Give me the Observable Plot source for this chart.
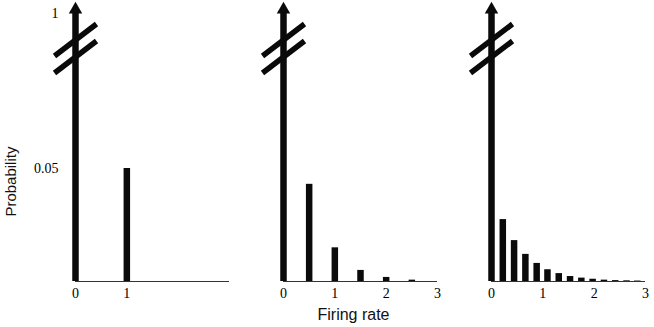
<!DOCTYPE html>
<html>
<head>
<meta charset="utf-8">
<script src="https://cdn.jsdelivr.net/npm/d3@7"></script>
<script src="https://cdn.jsdelivr.net/npm/@observablehq/plot@0.6"></script>
<style>
  html, body { margin: 0; padding: 0; background: #fff; }
  #chart svg { display: block; }
</style>
</head>
<body>
<div id="chart"></div>
<script>
// ---- data ----
const panels = ["a", "b", "c"];

const rateA = [0, 1];
const probA = [1, 0.05];

const rateB = [0, 0.5, 1, 1.5, 2, 2.5];
const probB = [1, 0.043, 0.0149, 0.0049, 0.0018, 0.0006];

const rateC = [0, 0.22, 0.44, 0.66, 0.88, 1.09, 1.31, 1.53, 1.75, 1.97, 2.19, 2.41, 2.63, 2.84];
const probC = [1, 0.0274, 0.0181, 0.012, 0.008, 0.0052, 0.0035, 0.0022, 0.0015, 0.001, 0.0006, 0.0004, 0.0003, 0.0002];

const xTicksA = [0, 1];
const xTicksB = [0, 1, 2, 3];
const xTicksC = [0, 1, 2, 3];

const yTicks = [0.05, 1];
const yTickLabels = ["0.05", "1"];

const topValue = 1;      // value of the broken bar at rate 0
const breakValue = 0.25; // where the axis break marks sit

const xLabel = "Firing rate";
const yLabel = "Probability";

// broken y axis: values above the break are compressed
const breakStart = 0.1;
const compress = 0.02065;
const yBroken = v => (v <= breakStart ? v : breakStart + (v - breakStart) * compress);

// ---- build tables ----
const bars = [
  ...rateA.map((r, i) => ({panel: "a", rate: r, p: probA[i]})),
  ...rateB.map((r, i) => ({panel: "b", rate: r, p: probB[i]})),
  ...rateC.map((r, i) => ({panel: "c", rate: r, p: probC[i]}))
];
const xTicks = [
  ...xTicksA.map(t => ({panel: "a", t})),
  ...xTicksB.map(t => ({panel: "b", t})),
  ...xTicksC.map(t => ({panel: "c", t}))
];
const yTickData = yTicks.map((v, i) => ({panel: "a", v, label: yTickLabels[i]}));
const tops = panels.map(p => ({panel: p, v: topValue}));
const breaks = panels.map(p => ({panel: p, v: breakValue}));

// custom "axis break" symbol: two parallel slashes
const breakSymbol = {
  draw(ctx) {
    ctx.moveTo(-21, 7.5); ctx.lineTo(21, -24.5);
    ctx.moveTo(-21, 24.5); ctx.lineTo(21, -7.5);
  }
};

const serif = "'Liberation Serif', 'Times New Roman', serif";
const sans = "'Liberation Sans', Arial, Helvetica, sans-serif";

const chart = Plot.plot({
  width: 654,
  height: 327,
  marginLeft: 74.5,
  marginRight: 8.5,
  marginTop: 13,
  marginBottom: 46,
  fx: {domain: panels, axis: null, paddingInner: 0.261, paddingOuter: 0},
  x: {domain: [0, 3], axis: null},
  y: {domain: [0, yBroken(topValue)], transform: yBroken, axis: null},
  style: {background: "white"},
  marks: [
    Plot.ruleY([0], {stroke: "#333", strokeWidth: 1}),
    Plot.ruleX(bars, {fx: "panel", x: "rate", y: "p", stroke: "#0a0a0a", strokeWidth: 6.5}),
    Plot.dot(tops, {fx: "panel", x: 0, y: "v", symbol: "triangle", r: 5, fill: "#0a0a0a", stroke: "none", dy: -4}),
    Plot.dot(breaks, {fx: "panel", x: 0, y: "v", symbol: breakSymbol, r: 5, fill: "none", stroke: "#0a0a0a", strokeWidth: 5.5}),
    Plot.text(xTicks, {fx: "panel", x: "t", y: 0, text: d => String(d.t), dy: 12, fontFamily: serif, fontSize: 14, fill: "#000"}),
    Plot.text(yTickData, {fx: "panel", x: 0, y: "v", text: "label", textAnchor: "end", dx: -17, fontFamily: serif, fontSize: 14, fill: "#000"}),
    Plot.text([{panel: "a"}], {fx: "panel", x: 0, y: 0.0442, text: () => yLabel, rotate: -90, dx: -64.5, fontFamily: sans, fontSize: 15, fill: "#111"}),
    Plot.text([{panel: "b"}], {fx: "panel", frameAnchor: "bottom", text: () => xLabel, dx: -7, dy: 38, fontFamily: sans, fontSize: 16, fill: "#111"})
  ]
});
document.getElementById("chart").appendChild(chart);
</script>
</body>
</html>
